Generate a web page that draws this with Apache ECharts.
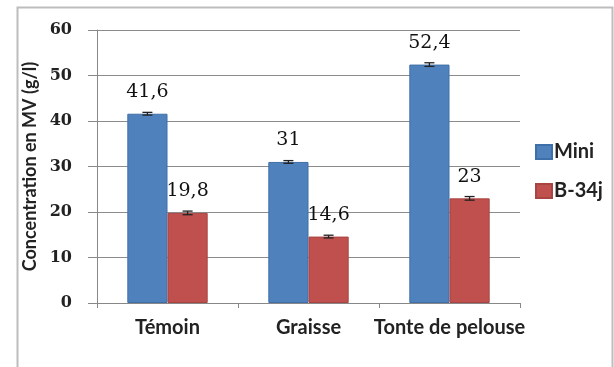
<!DOCTYPE html>
<html><head><meta charset="utf-8">
<script src="https://cdn.jsdelivr.net/npm/echarts@6/dist/echarts.min.js"></script>
<style>html,body{margin:0;padding:0;background:#fff}#c{width:614px;height:367px}</style>
</head><body><div id="c"></div>
<script>
const categories = ['Témoin', 'Graisse', 'Tonte de pelouse'];
const miniValues = [41.6, 31, 52.4];
const b34jValues = [19.8, 14.6, 23];
const miniErrors = [0.3, 0.3, 0.4];
const b34jErrors = [0.4, 0.3, 0.4];
const yTicks = [0, 10, 20, 30, 40, 50, 60];
const seriesNames = ['Mini', 'B-34j'];

const chart = echarts.init(document.getElementById('c'));
const fmt = v => String(v).replace('.', ',');

function errSeries(vals, errs, idx) {
  return {
    type: 'custom',
    name: seriesNames[idx] + ' err',
    z: 10,
    data: vals.map((v, i) => [i, v, errs[i]]),
    renderItem: function (params, api) {
      const ci = api.value(0);
      const bw = api.size([1, 0])[0];
      const barW = bw * 0.285;
      const off = (idx === 0 ? -0.5 : 0.5) * barW;
      const top = api.coord([ci, api.value(1) + api.value(2)]);
      const bot = api.coord([ci, api.value(1) - api.value(2)]);
      const x = top[0] + off;
      const cap = 5;
      const st = { stroke: '#222', lineWidth: 1.3 };
      return { type: 'group', children: [
        { type: 'line', shape: { x1: x, y1: top[1], x2: x, y2: bot[1] }, style: st },
        { type: 'line', shape: { x1: x - cap, y1: top[1], x2: x + cap, y2: top[1] }, style: st },
        { type: 'line', shape: { x1: x - cap, y1: bot[1], x2: x + cap, y2: bot[1] }, style: st }
      ]};
    },
    tooltip: { show: false },
    silent: true
  };
}

const labelStyle = {
  show: true, position: 'top', distance: 12,
  formatter: p => fmt(p.value),
  fontFamily: 'DejaVu Serif', fontSize: 19, color: '#111'
};

chart.setOption({
  animation: false,
  backgroundColor: '#fff',
  graphic: [{
    type: 'rect', left: 15, top: 5, z: -1,
    shape: { width: 595, height: 375 },
    style: { fill: 'none', stroke: '#bdbdbd', lineWidth: 2 }
  }],
  legend: {
    data: seriesNames, orient: 'vertical', left: 530, top: 137,
    itemWidth: 16, itemHeight: 14, itemGap: 19,
    textStyle: { fontFamily: 'Lato', fontWeight: 'bold', fontSize: 20, color: '#222', padding: [0, 0, 0, -3] },
    icon: 'rect'
  },
  grid: { left: 97, right: 94, top: 30, bottom: 64 },
  xAxis: {
    type: 'category', data: categories,
    axisLine: { lineStyle: { color: '#888', width: 1 } },
    axisTick: { show: true, length: 5, lineStyle: { color: '#888' } },
    axisLabel: { interval: 0, fontFamily: 'Lato', fontWeight: 'bold', fontSize: 20, color: '#222', margin: 15 }
  },
  yAxis: {
    type: 'value', min: 0, max: 60, interval: 10,
    name: 'Concentration en MV (g/l)', nameLocation: 'middle', nameGap: 52,
    nameTextStyle: { fontFamily: 'Lato', fontWeight: 'bold', fontSize: 18, color: '#222' },
    axisLine: { show: true, lineStyle: { color: '#888' } },
    axisTick: { show: true, inside: false, length: 9, lineStyle: { color: '#888' } },
    axisLabel: { fontFamily: 'DejaVu Serif', fontWeight: 'bold', fontSize: 16, color: '#222', margin: 25,
      formatter: v => yTicks.includes(v) ? String(v) : '' },
    splitLine: { lineStyle: { color: '#8c8c8c', width: 1 } }
  },
  series: [
    { name: seriesNames[0], type: 'bar', data: miniValues, barGap: '0%', barCategoryGap: '43%',
      itemStyle: { color: '#4F81BD', borderColor: '#3f6fa8', borderWidth: 1 }, label: labelStyle },
    { name: seriesNames[1], type: 'bar', data: b34jValues,
      itemStyle: { color: '#C0504D', borderColor: '#a84542', borderWidth: 1 }, label: labelStyle },
    errSeries(miniValues, miniErrors, 0),
    errSeries(b34jValues, b34jErrors, 1)
  ]
});
</script></body></html>
